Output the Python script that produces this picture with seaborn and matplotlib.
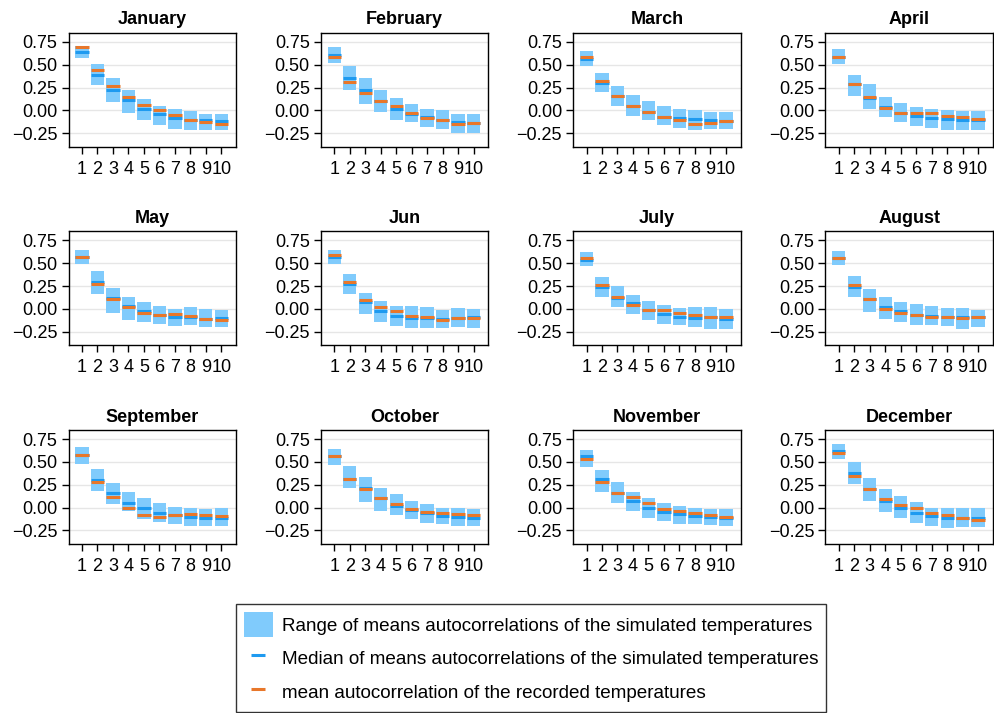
import numpy as np
import pandas as pd
import matplotlib
matplotlib.use("Agg")
import matplotlib.pyplot as plt
from matplotlib.patches import Patch
from matplotlib.lines import Line2D
import seaborn as sns

months = ["January", "February", "March", "April", "May", "Jun", "July",
          "August", "September", "October", "November", "December"]
lags = [1, 2, 3, 4, 5, 6, 7, 8, 9, 10]

range_high = [
    [0.71, 0.51, 0.35, 0.22, 0.13, 0.05, 0.02, -0.01, -0.04, -0.04],
    [0.69, 0.49, 0.36, 0.22, 0.14, 0.07, 0.01, 0.00, -0.04, -0.04],
    [0.65, 0.415, 0.27, 0.17, 0.105, 0.05, 0.02, 0.00, -0.015, -0.015],
    [0.67, 0.39, 0.285, 0.15, 0.085, 0.035, 0.015, 0.005, -0.005, -0.005],
    [0.65, 0.42, 0.23, 0.13, 0.08, 0.035, 0.00, 0.02, 0.00, -0.01],
    [0.65, 0.385, 0.175, 0.09, 0.03, 0.03, 0.02, -0.01, 0.005, 0.00],
    [0.62, 0.35, 0.255, 0.155, 0.09, 0.045, 0.01, 0.02, 0.02, 0.00],
    [0.64, 0.365, 0.22, 0.13, 0.08, 0.055, 0.035, 0.01, 0.01, -0.01],
    [0.66, 0.42, 0.265, 0.175, 0.10, 0.045, 0.01, -0.01, -0.02, 0.00],
    [0.64, 0.45, 0.33, 0.21, 0.145, 0.075, 0.035, 0.00, 0.00, -0.02],
    [0.63, 0.41, 0.275, 0.175, 0.10, 0.045, 0.02, 0.00, -0.02, -0.02],
    [0.70, 0.50, 0.32, 0.20, 0.13, 0.055, 0.00, -0.01, -0.01, -0.01],
]
range_low = [
    [0.57, 0.28, 0.09, -0.03, -0.11, -0.165, -0.20, -0.21, -0.21, -0.21],
    [0.52, 0.22, 0.07, -0.02, -0.11, -0.13, -0.18, -0.20, -0.25, -0.25],
    [0.485, 0.20, 0.045, -0.065, -0.11, -0.165, -0.19, -0.21, -0.20, -0.20],
    [0.51, 0.16, 0.02, -0.07, -0.13, -0.175, -0.19, -0.21, -0.21, -0.21],
    [0.49, 0.16, -0.04, -0.12, -0.14, -0.165, -0.185, -0.175, -0.195, -0.195],
    [0.49, 0.16, -0.055, -0.145, -0.185, -0.205, -0.205, -0.205, -0.195, -0.205],
    [0.47, 0.13, 0.025, -0.06, -0.12, -0.16, -0.175, -0.195, -0.215, -0.215],
    [0.48, 0.13, -0.03, -0.105, -0.14, -0.175, -0.175, -0.185, -0.215, -0.195],
    [0.48, 0.18, 0.035, -0.04, -0.13, -0.16, -0.185, -0.205, -0.205, -0.205],
    [0.47, 0.215, 0.065, -0.04, -0.08, -0.13, -0.175, -0.185, -0.205, -0.205],
    [0.445, 0.17, 0.045, -0.035, -0.12, -0.15, -0.185, -0.185, -0.195, -0.205],
    [0.53, 0.255, 0.07, -0.05, -0.12, -0.165, -0.205, -0.225, -0.215, -0.215],
]
sim_median = [
    [0.64, 0.39, 0.22, 0.11, 0.015, -0.04, -0.08, -0.10, -0.11, -0.12],
    [0.61, 0.36, 0.22, 0.10, 0.02, -0.04, -0.07, -0.105, -0.125, -0.14],
    [0.56, 0.30, 0.16, 0.05, -0.02, -0.07, -0.08, -0.095, -0.105, -0.12],
    [0.59, 0.29, 0.135, 0.035, -0.03, -0.06, -0.085, -0.095, -0.10, -0.11],
    [0.57, 0.29, 0.12, 0.035, -0.02, -0.07, -0.085, -0.09, -0.105, -0.095],
    [0.57, 0.27, 0.075, -0.02, -0.08, -0.10, -0.10, -0.105, -0.10, -0.085],
    [0.54, 0.245, 0.125, 0.07, -0.015, -0.05, -0.085, -0.095, -0.09, -0.105],
    [0.56, 0.245, 0.105, 0.025, -0.025, -0.07, -0.08, -0.09, -0.09, -0.09],
    [0.58, 0.30, 0.155, 0.05, -0.01, -0.06, -0.08, -0.10, -0.11, -0.11],
    [0.56, 0.315, 0.215, 0.10, 0.02, -0.03, -0.065, -0.09, -0.10, -0.11],
    [0.56, 0.31, 0.16, 0.075, 0.00, -0.05, -0.07, -0.09, -0.105, -0.12],
    [0.62, 0.38, 0.20, 0.07, 0.00, -0.06, -0.09, -0.11, -0.11, -0.11],
]
rec_mean = [
    [0.69, 0.44, 0.27, 0.15, 0.06, 0.00, -0.05, -0.10, -0.13, -0.15],
    [0.58, 0.31, 0.195, 0.10, 0.05, -0.03, -0.085, -0.11, -0.15, -0.14],
    [0.59, 0.32, 0.16, 0.05, -0.02, -0.07, -0.10, -0.15, -0.135, -0.12],
    [0.59, 0.29, 0.145, 0.025, -0.03, -0.03, -0.03, -0.06, -0.075, -0.095],
    [0.57, 0.27, 0.11, 0.02, -0.045, -0.065, -0.055, -0.075, -0.105, -0.125],
    [0.59, 0.30, 0.10, 0.02, -0.025, -0.075, -0.085, -0.125, -0.10, -0.10],
    [0.56, 0.26, 0.135, 0.045, -0.015, -0.015, -0.04, -0.07, -0.09, -0.09],
    [0.56, 0.26, 0.105, 0.00, -0.045, -0.07, -0.09, -0.09, -0.10, -0.09],
    [0.58, 0.28, 0.12, 0.00, -0.08, -0.10, -0.08, -0.07, -0.08, -0.09],
    [0.56, 0.315, 0.20, 0.10, 0.035, -0.015, -0.045, -0.065, -0.07, -0.08],
    [0.53, 0.28, 0.16, 0.11, 0.05, -0.015, -0.04, -0.06, -0.08, -0.10],
    [0.60, 0.35, 0.20, 0.09, 0.03, 0.00, -0.06, -0.08, -0.11, -0.135],
]

ytick_vals = [-0.25, 0.0, 0.25, 0.5, 0.75]
ytick_labels = ["\u22120.25", "0.00", "0.25", "0.50", "0.75"]
legend_labels = [
    "Range of means autocorrelations of the simulated temperatures",
    "Median of means autocorrelations of the simulated temperatures",
    "mean autocorrelation of the recorded temperatures",
]

fill_color = "#80CBFC"
median_color = "#1E9AF0"
mean_color = "#E8772A"
bar_w = 0.86

sns.set_theme(style="ticks")
plt.rcParams["font.family"] = ["Liberation Sans", "DejaVu Sans"]
plt.rcParams["text.color"] = "black"
plt.rcParams["axes.labelcolor"] = "black"
plt.rcParams["xtick.color"] = "black"
plt.rcParams["ytick.color"] = "black"

fig = plt.figure(figsize=(9.95, 7.13), dpi=100)
axes = fig.subplots(3, 4)
fig.subplots_adjust(left=0.069, right=0.998, top=0.954, bottom=0.237,
                    wspace=0.506, hspace=0.74)

for i, ax in enumerate(axes.flat):
    df = pd.DataFrame({
        "lag": lags,
        "low": range_low[i],
        "high": range_high[i],
        "median": sim_median[i],
        "mean": rec_mean[i],
    })
    df["height"] = df["high"] - df["low"]
    ax.yaxis.grid(True, color="#E6E6E6", linewidth=1.0, zorder=0)
    ax.set_axisbelow(True)
    sns.barplot(data=df, x="lag", y="height", native_scale=True, width=bar_w,
                color=fill_color, saturation=1, errorbar=None,
                bottom=df["low"].to_numpy(), linewidth=0, edgecolor="none",
                ax=ax, zorder=2)
    lx = df["lag"].to_numpy()
    ax.hlines(df["median"], lx - bar_w / 2, lx + bar_w / 2, color=median_color,
              linewidth=2.2, zorder=3)
    ax.hlines(df["mean"], lx - bar_w / 2, lx + bar_w / 2, color=mean_color,
              linewidth=2.2, zorder=4)
    ax.set_xlim(0.14, 10.96)
    ax.set_ylim(-0.40, 0.85)
    ax.set_xticks(lags)
    ax.set_xticklabels([str(v) for v in lags])
    ax.set_yticks(ytick_vals)
    ax.set_yticklabels(ytick_labels)
    ax.tick_params(axis="both", direction="out", length=5, width=1,
                   labelsize=13, pad=3)
    ax.tick_params(axis="x", pad=5)
    for sp in ax.spines.values():
        sp.set_visible(True)
        sp.set_color("black")
        sp.set_linewidth(1.0)
    ax.set_xlabel("")
    ax.set_ylabel("")
    ax.set_title(months[i], fontsize=13, fontweight="bold", pad=6)

handles = [
    Patch(facecolor=fill_color, edgecolor="none"),
    Line2D([], [], color=median_color, marker="_", linestyle="None",
           markersize=10, markeredgewidth=2.2),
    Line2D([], [], color=mean_color, marker="_", linestyle="None",
           markersize=10, markeredgewidth=2.2),
]
leg = fig.legend(handles, legend_labels, loc="lower center",
                 bbox_to_anchor=(0.534, 0.0015), fontsize=13.6, frameon=True,
                 fancybox=False, edgecolor="black", handlelength=1.55,
                 handleheight=1.65, labelspacing=0.47, handletextpad=0.5,
                 borderpad=0.4, borderaxespad=0)
leg.get_frame().set_linewidth(1.0)

fig.savefig("out.png", dpi=100)
